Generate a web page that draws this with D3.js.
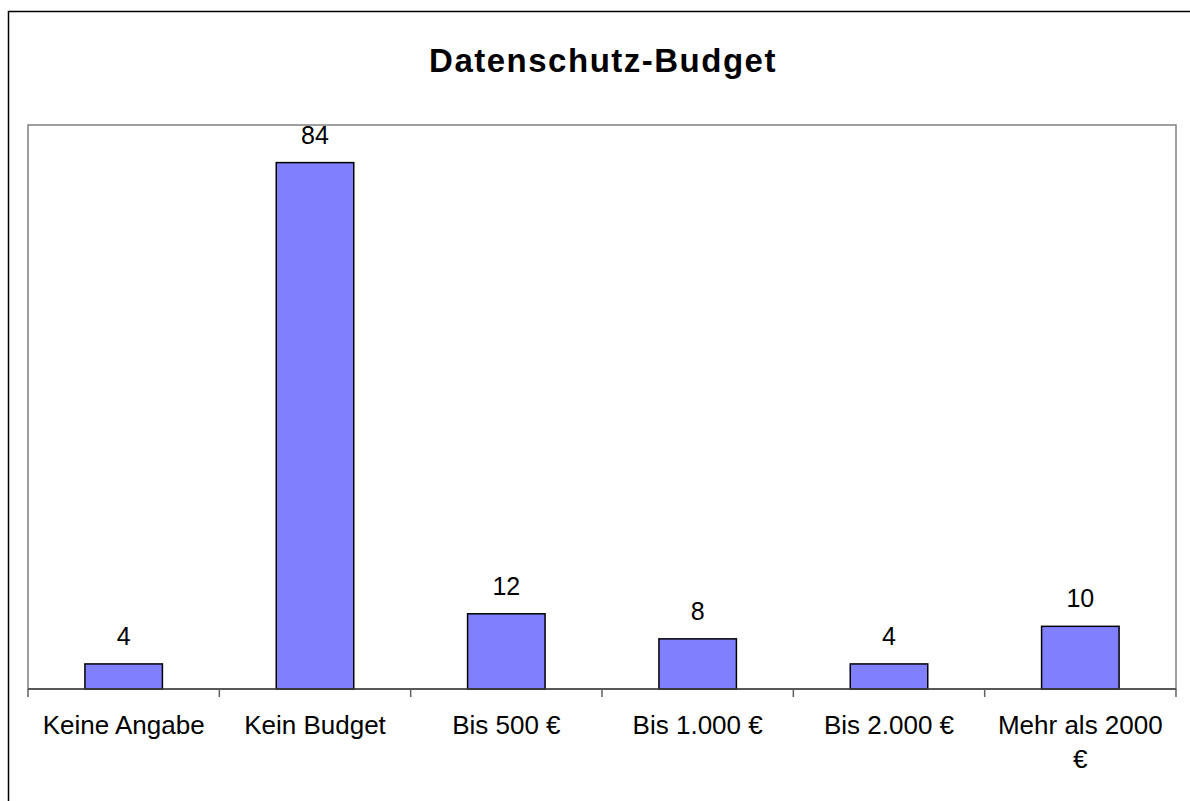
<!DOCTYPE html>
<html>
<head>
<meta charset="utf-8">
<script src="https://cdn.jsdelivr.net/npm/d3@7"></script>
<style>
  html, body { margin: 0; padding: 0; background: #fff; }
  svg { display: block; }
  text { font-family: "Liberation Sans", Arial, sans-serif; fill: #000; }
</style>
</head>
<body>
<svg id="chart" width="1190" height="801"></svg>
<script>
const categories = ["Keine Angabe", "Kein Budget", "Bis 500 €", "Bis 1.000 €", "Bis 2.000 €", "Mehr als 2000 €"];
const values = [4, 84, 12, 8, 4, 10];
const titleText = "Datenschutz-Budget";
const yMax = 90;

const svg = d3.select("#chart");
const plot = { left: 28, right: 1176, top: 125, bottom: 689 };

// outer frame (right/bottom edges fall outside the picture)
svg.append("rect")
  .attr("x", 8.5).attr("y", 11.5)
  .attr("width", 1300).attr("height", 1000)
  .attr("fill", "none").attr("stroke", "#000").attr("stroke-width", 1.5);

// title
svg.append("text")
  .attr("x", 603).attr("y", 72)
  .attr("text-anchor", "middle")
  .style("font-size", "33px").style("font-weight", "bold")
  .style("letter-spacing", "1.5px")
  .text(titleText);

const x = d3.scaleBand()
  .domain(categories)
  .range([plot.left, plot.right])
  .paddingInner(0.595).paddingOuter(0.2975);

const y = d3.scaleLinear().domain([0, yMax]).range([plot.bottom, plot.top]);

// plot area border
svg.append("rect")
  .attr("x", plot.left).attr("y", plot.top)
  .attr("width", plot.right - plot.left).attr("height", plot.bottom - plot.top)
  .attr("fill", "none").attr("stroke", "#808080").attr("stroke-width", 1.5);

// bars
svg.selectAll("rect.bar")
  .data(values)
  .join("rect")
  .attr("class", "bar")
  .attr("x", (d, i) => x(categories[i]))
  .attr("width", x.bandwidth())
  .attr("y", d => y(d))
  .attr("height", d => y(0) - y(d))
  .attr("fill", "#8080FF")
  .attr("stroke", "#000").attr("stroke-width", 1.5);

// value labels
svg.selectAll("text.val")
  .data(values)
  .join("text")
  .attr("class", "val")
  .attr("x", (d, i) => x(categories[i]) + x.bandwidth() / 2)
  .attr("y", d => y(d) - 19)
  .attr("text-anchor", "middle")
  .style("font-size", "25px")
  .text(d => d);

// x axis line + boundary ticks
const bx = d3.scaleLinear().domain([0, categories.length]).range([plot.left, plot.right]);
svg.append("line")
  .attr("x1", plot.left).attr("x2", plot.right)
  .attr("y1", plot.bottom).attr("y2", plot.bottom)
  .attr("stroke", "#404040").attr("stroke-width", 1.5);
svg.selectAll("line.tick")
  .data(d3.range(categories.length + 1))
  .join("line")
  .attr("class", "tick")
  .attr("x1", d => bx(d)).attr("x2", d => bx(d))
  .attr("y1", plot.bottom).attr("y2", plot.bottom + 8)
  .attr("stroke", "#606060").attr("stroke-width", 1.5);

// category labels with wrapping
const maxW = 170;
categories.forEach((c, i) => {
  const cx = x(c) + x.bandwidth() / 2;
  const t = svg.append("text")
    .attr("x", cx)
    .attr("y", 734)
    .attr("text-anchor", "middle")
    .style("font-size", "26px");
  const words = c.split(" ");
  let line = [];
  let tspan = t.append("tspan").attr("x", cx).attr("dy", 0);
  words.forEach(w => {
    line.push(w);
    tspan.text(line.join(" "));
    if (tspan.node().getComputedTextLength() > maxW && line.length > 1) {
      line.pop();
      tspan.text(line.join(" "));
      line = [w];
      tspan = t.append("tspan").attr("x", cx).attr("dy", 34).text(w);
    }
  });
});
</script>
</body>
</html>
